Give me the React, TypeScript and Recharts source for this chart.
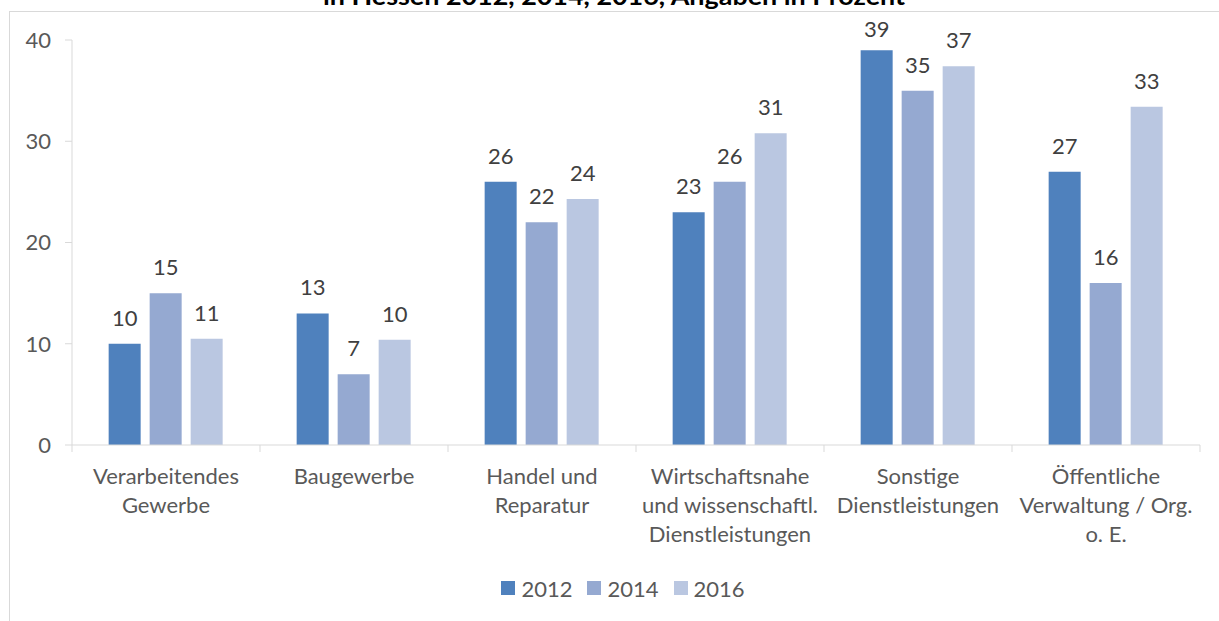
import { Bar, BarChart, LabelList, Legend, XAxis, YAxis } from "recharts";

const categories = [
  ["Verarbeitendes", "Gewerbe"],
  ["Baugewerbe"],
  ["Handel und", "Reparatur"],
  ["Wirtschaftsnahe", "und wissenschaftl.", "Dienstleistungen"],
  ["Sonstige", "Dienstleistungen"],
  ["Öffentliche", "Verwaltung / Org.", "o. E."],
];
const y2012 = [10, 13, 26, 23, 39, 27];
const y2014 = [15, 7, 22, 26, 35, 16];
const y2016 = [10.5, 10.4, 24.3, 30.8, 37.4, 33.4];
const yTicks = [0, 10, 20, 30, 40];
const series = [
  { key: "2012", values: y2012, color: "#4f81bd" },
  { key: "2014", values: y2014, color: "#95a9d1" },
  { key: "2016", values: y2016, color: "#bac7e1" },
];
const title = "in Hessen 2012, 2014, 2016, Angaben in Prozent";

const W = 1219;
const H = 621;
const PLOT_LEFT = 72;
const PLOT_RIGHT = 1200;
const FONT = "Lato, 'Open Sans', sans-serif";

const data = categories.map((lines, i) => {
  const row: Record<string, unknown> = { name: lines.join(" "), lines };
  series.forEach((s) => (row[s.key] = s.values[i]));
  return row;
});

const band = (PLOT_RIGHT - PLOT_LEFT) / categories.length;

function CategoryTick(props: any) {
  const { x, y, index } = props;
  const lines = categories[index] ?? [];
  return (
    <g>
      <line x1={x - band / 2} x2={x - band / 2} y1={y} y2={y + 7} stroke="#d9d9d9" />
      {index === categories.length - 1 && (
        <line x1={x + band / 2} x2={x + band / 2} y1={y} y2={y + 7} stroke="#d9d9d9" />
      )}
      <text x={x} y={y + 39} textAnchor="middle" fill="#595959" fontSize={22} fontFamily={FONT}>
        {lines.map((l, i) => (
          <tspan key={i} x={x} dy={i === 0 ? 0 : 29}>
            {l}
          </tspan>
        ))}
      </text>
    </g>
  );
}

// Excel pushes labels down so they stay inside the chart frame
function TopLabel(props: any) {
  const { x, y, width, value } = props;
  const baseline = Math.max(y - 18, 37);
  return (
    <text x={x + width / 2} y={baseline} textAnchor="middle" fill="#404040" fontSize={22} fontFamily={FONT}>
      {Math.round(Number(value))}
    </text>
  );
}

function LegendBox() {
  return (
    <div style={{ height: 66, display: "flex", justifyContent: "center", alignItems: "center", gap: 15, paddingLeft: 46 }}>
      {series.map((s) => (
        <div key={s.key} style={{ display: "flex", alignItems: "center", gap: 6 }}>
          <span style={{ width: 14, height: 14, background: s.color, display: "inline-block" }} />
          <span style={{ fontFamily: FONT, fontSize: 22, color: "#595959" }}>{s.key}</span>
        </div>
      ))}
    </div>
  );
}

export default function App() {
  return (
    <div style={{ position: "absolute", left: 0, top: 0, width: W, height: H, background: "#fff", overflow: "hidden" }}>
      <svg width={W} height={H} style={{ position: "absolute", left: 0, top: 0 }}>
        <rect x={9.5} y={11.5} width={W + 20} height={H + 20} fill="none" stroke="#d9d9d9" />
        <text
          x={323}
          y={5}
          textLength={582}
          lengthAdjust="spacingAndGlyphs"
          fontFamily={FONT}
          fontWeight="bold"
          fontSize={24}
          fill="#000"
        >
          {title}
        </text>
      </svg>
      <div style={{ position: "absolute", left: 0, top: 0 }}>
        <BarChart
          width={W}
          height={H}
          data={data}
          margin={{ top: 40, right: W - PLOT_RIGHT, bottom: 0, left: 0 }}
          barCategoryGap="19.5%"
          barGap={9}
        >
          <YAxis
            width={PLOT_LEFT}
            domain={[0, 40]}
            ticks={yTicks}
            axisLine={{ stroke: "#d9d9d9" }}
            tickLine={{ stroke: "#d9d9d9" }}
            tickSize={7}
            tickMargin={14}
            tick={{ fill: "#595959", fontSize: 22, fontFamily: FONT }}
          />
          <XAxis
            dataKey="name"
            height={110}
            axisLine={{ stroke: "#d9d9d9" }}
            tickLine={false}
            tickSize={0}
            tickMargin={0}
            interval={0}
            tick={<CategoryTick />}
          />
          <Legend verticalAlign="bottom" content={<LegendBox />} />
          {series.map((s) => (
            <Bar key={s.key} dataKey={s.key} fill={s.color} isAnimationActive={false}>
              <LabelList dataKey={s.key} content={<TopLabel />} />
            </Bar>
          ))}
        </BarChart>
      </div>
    </div>
  );
}
